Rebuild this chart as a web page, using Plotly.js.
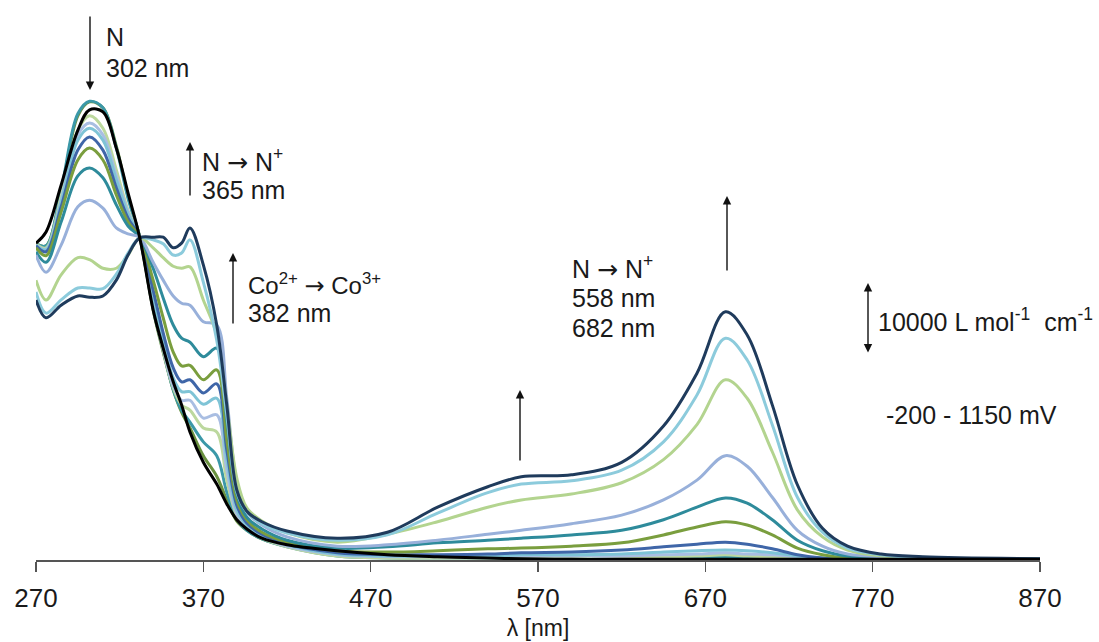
<!DOCTYPE html>
<html>
<head>
<meta charset="utf-8">
<script src="https://cdn.plot.ly/plotly-3.0.1.min.js"></script>
<style>html,body{margin:0;padding:0;background:#fff;}#chart{width:1099px;height:642px;}</style>
</head>
<body>
<div id="chart"></div>
<script>
// Wavelength grid (nm)
const wavelength = [270,276,285,295,302,310,318,325,332,340,346,352,357,362,370,378,384,390,396,405,420,450,480,510,540,560,590,620,645,665,682,695,710,725,740,755,775,800,870];

// Molar absorptivity, 10^3 L mol^-1 cm^-1, from start (-200 mV) to end (1150 mV)
const eps_s0  = [48.0,49.7,56.8,65.1,68.2,67.9,62.4,55.6,48.8,37.9,32.1,27.0,23.5,19.4,14.8,11.5,8.5,6.1,4.7,3.3,2.3,1.4,0.8,0.5,0.3,0.2,0.1,0.1,0.1,0.1,0.1,0.1,0.1,0.1,0.1,0.1,0.1,0.1,0.1];
const eps_s1  = [47.9,47.6,55.6,67.3,69.4,68.5,62.7,55.1,48.9,37.9,31.5,25.8,22.4,20.0,15.8,12.7,9.1,5.9,4.5,3.2,2.1,1.1,0.6,0.5,0.4,0.3,0.3,0.3,0.3,0.3,0.3,0.3,0.2,0.2,0.1,0.1,0.1,0.1,0.1];
const eps_s2  = [47.9,47.6,56.1,67.6,69.5,68.5,62.4,54.8,48.9,38.2,31.8,25.8,22.7,20.9,17.9,15.8,10.3,6.2,4.5,3.2,2.0,0.6,0.3,0.3,0.3,0.3,0.3,0.3,0.4,0.4,0.5,0.4,0.3,0.2,0.1,0.1,0.1,0.1,0.1];
const eps_s3  = [47.9,47.3,55.1,65.1,67.3,65.4,59.1,53.0,48.9,38.5,31.8,26.1,23.5,22.7,20.0,19.4,12.1,6.7,4.8,3.3,2.0,0.6,0.3,0.3,0.3,0.4,0.4,0.5,0.5,0.6,0.8,0.6,0.5,0.3,0.1,0.1,0.1,0.1,0.1];
const eps_s4  = [47.7,47.1,54.5,64.4,66.2,64.4,58.2,52.7,48.9,38.9,32.1,26.4,24.2,24.2,21.5,22.0,13.6,7.0,5.0,3.5,2.1,0.8,0.5,0.5,0.5,0.6,0.6,0.6,0.8,0.9,1.1,0.9,0.8,0.5,0.2,0.1,0.1,0.1,0.1];
const eps_s5  = [47.7,47.0,54.2,63.6,65.4,63.6,57.6,52.4,48.9,39.7,33.0,27.6,25.5,25.5,23.6,24.5,15.2,7.6,5.3,3.8,2.3,0.9,0.6,0.6,0.6,0.8,0.8,0.9,1.2,1.4,1.5,1.4,1.1,0.6,0.3,0.2,0.1,0.1,0.1];
const eps_s6  = [47.6,46.7,53.5,62.1,64.1,62.1,56.4,51.8,48.9,40.9,34.4,29.1,27.0,27.3,25.3,26.7,16.7,8.3,5.6,3.9,2.4,1.1,0.8,0.8,0.9,1.1,1.2,1.5,2.0,2.4,2.7,2.4,1.7,0.8,0.3,0.2,0.2,0.1,0.1];
const eps_s7  = [47.3,46.1,52.7,60.6,62.4,60.6,55.3,51.2,48.9,42.4,36.7,31.5,29.4,29.5,27.3,28.8,18.2,9.1,6.1,4.2,2.7,1.4,1.2,1.4,1.7,1.8,2.1,2.6,3.8,5.0,5.8,5.3,3.8,1.8,0.8,0.3,0.2,0.2,0.1];
const eps_s8  = [46.7,45.1,51.2,58.2,59.4,57.9,53.8,50.6,48.9,44.2,39.7,35.6,33.6,33.0,30.8,32.1,21.2,10.0,6.5,4.7,3.0,1.8,2.0,2.6,3.0,3.3,3.8,4.5,6.1,8.0,9.4,8.6,6.1,3.0,1.4,0.6,0.3,0.2,0.2];
const eps_s9  = [46.2,43.6,47.7,53.5,54.5,53.3,50.3,49.4,48.9,45.1,42.4,40.0,38.9,38.6,36.1,35.6,24.5,11.8,7.3,5.3,3.5,2.1,2.3,3.0,3.9,4.5,5.5,6.8,9.1,12.1,15.8,14.2,9.5,4.5,2.1,0.9,0.5,0.2,0.2];
const eps_s10 = [42.4,39.4,43.2,45.8,45.5,44.2,44.2,46.2,48.8,47.3,45.8,44.5,44.2,44.4,39.4,34.1,23.5,12.4,7.9,5.9,4.1,2.7,3.9,5.8,8.0,9.1,10.0,11.7,15.2,20.5,27.3,24.5,16.4,7.6,3.5,1.5,0.6,0.3,0.2];
const eps_s11 = [40.6,37.4,39.4,41.2,41.2,41.1,43.3,46.5,48.8,48.5,47.9,46.2,46.5,48.5,42.1,33.3,22.0,10.3,7.3,5.5,4.1,3.0,3.8,7.1,10.2,11.5,12.0,13.6,17.9,25.0,33.6,30.3,20.5,9.5,4.2,1.8,0.8,0.3,0.2];
const eps_s12 = [39.4,36.7,38.6,40.0,39.8,40.0,42.4,46.2,48.8,48.9,48.9,47.3,48.0,50.3,44.7,35.6,23.5,10.6,7.4,5.8,4.4,3.3,4.2,8.0,11.1,12.6,12.9,14.8,20.3,28.3,37.6,34.1,23.5,11.4,4.8,2.1,0.9,0.5,0.2];

const seriesNames = ['-200 mV','step 1','step 2','step 3','step 4','step 5','step 6','step 7','step 8','step 9','step 10','step 11','1150 mV'];
const seriesValues = [eps_s0,eps_s1,eps_s2,eps_s3,eps_s4,eps_s5,eps_s6,eps_s7,eps_s8,eps_s9,eps_s10,eps_s11,eps_s12];
const seriesColors = ['#000000','#6b9240','#3b98a8','#bcd89e','#a9bee2','#7fc4d6','#3f66a8','#7a9e3e','#2e8b9b','#98b0da','#b3d48f','#8ccbdc','#1f3b5c'];
const xTicks = [270,370,470,570,670,770,870];

const traces = [];
// draw steps 1..12 first, start curve (black) on top
for (let i = 1; i < seriesValues.length; i++) {
  traces.push({x: wavelength, y: seriesValues[i], type: 'scatter', mode: 'lines', name: seriesNames[i],
    line: {color: seriesColors[i], width: 3, shape: 'spline', smoothing: 1}, hoverinfo: 'skip'});
}
traces.push({x: wavelength, y: seriesValues[0], type: 'scatter', mode: 'lines', name: seriesNames[0],
  line: {color: seriesColors[0], width: 3, shape: 'spline', smoothing: 1}, hoverinfo: 'skip'});

const W = 1099, H = 642, ML = 36, MR = 59, MT = 10, MB = 82;
const PW = W - ML - MR, PH = H - MT - MB;
function P(px, py) { return {x: (px - ML) / PW, y: (H - MB - py) / PH}; }

const FONT = 'Liberation Sans, Arial, sans-serif';
const ARR = '<span style="font-family:DejaVu Sans">→</span>';
function label(text, px, py, size) {
  const p = P(px, py);
  return {xref: 'paper', yref: 'paper', x: p.x, y: p.y, text: text, showarrow: false,
    xanchor: 'left', yanchor: 'middle', align: 'left', font: {family: FONT, size: size || 25, color: '#1a1a1a'}};
}
function arrow(px, pyHead, pyTail, both) {
  const p = P(px, pyHead);
  return {xref: 'paper', yref: 'paper', x: p.x, y: p.y, text: '', showarrow: true,
    ax: 0, ay: pyTail - pyHead, arrowhead: 2, arrowsize: 1.2, arrowwidth: 1.4, arrowcolor: '#111',
    arrowside: both ? 'end+start' : 'end', startarrowhead: 2, startarrowsize: 1.2, standoff: 0, startstandoff: 0};
}

const annotations = [
  arrow(90, 90, 15),
  label('N', 104, 37),
  label('302 nm', 104, 68),
  arrow(190, 142, 197),
  label('N ' + ARR + ' N<sup>+</sup>', 200, 160),
  label('365 nm', 200, 190),
  arrow(233, 253, 325),
  label('Co<sup>2+</sup> ' + ARR + ' Co<sup>3+</sup>', 246, 284, 24),
  label('382 nm', 246, 313),
  label('N ' + ARR + ' N<sup>+</sup>', 570, 267),
  label('558 nm', 570, 298),
  label('682 nm', 570, 328),
  arrow(520, 390, 462),
  arrow(727, 196, 272),
  arrow(868, 283, 354, true),
  label('10000 L mol<sup>-1</sup>  cm<sup>-1</sup>', 876, 320, 25),
  label('-200 - 1150 mV', 884, 415, 25)
];

const layout = {
  width: W, height: H,
  margin: {l: ML, r: MR, t: MT, b: MB},
  paper_bgcolor: '#ffffff', plot_bgcolor: '#ffffff',
  showlegend: false,
  xaxis: {range: [270, 870], tickvals: xTicks, ticktext: xTicks.map(String), ticks: 'outside', ticklen: 10,
    tickcolor: '#555', tickwidth: 1.2, showline: true, linecolor: '#555', linewidth: 1.5,
    showgrid: false, zeroline: false, tickfont: {family: FONT, size: 26, color: '#1a1a1a'}, ticklabelstandoff: 4,
    title: {text: 'λ [nm]', font: {family: FONT, size: 23, color: '#1a1a1a'}, standoff: 8}},
  yaxis: {range: [0, PH * 0.1515], visible: false, showgrid: false, zeroline: false, fixedrange: true},
  annotations: annotations
};

Plotly.newPlot('chart', traces, layout, {displayModeBar: false, staticPlot: true});
</script>
</body>
</html>
